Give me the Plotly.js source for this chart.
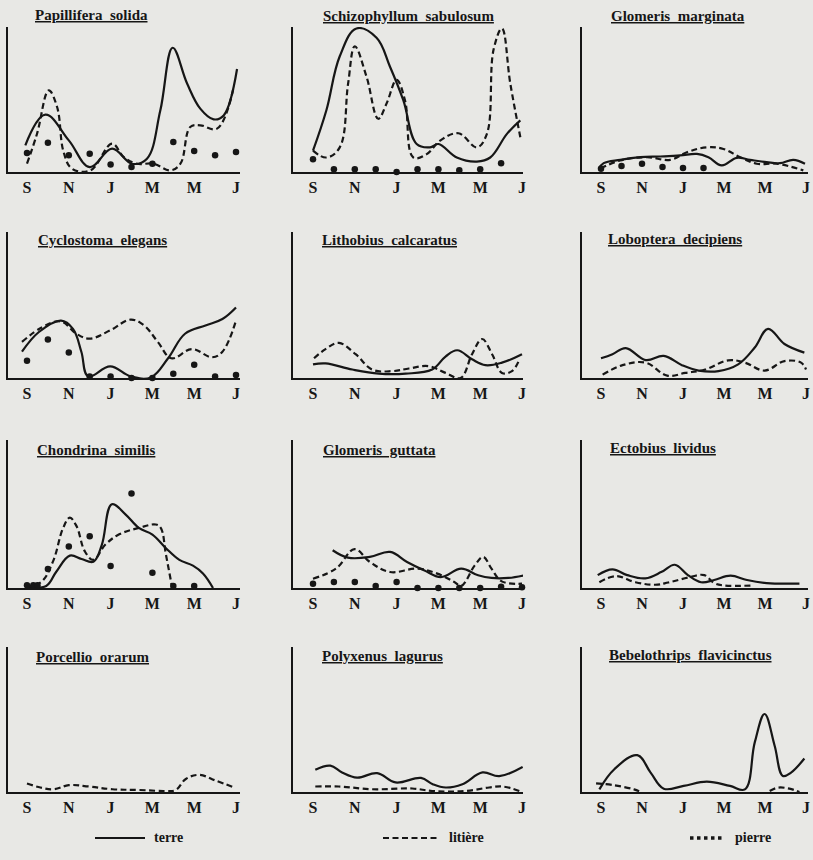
<!DOCTYPE html>
<html>
<head>
<meta charset="utf-8">
<script src="https://cdn.plot.ly/plotly-3.0.1.min.js"></script>
<style>
html,body{margin:0;padding:0;background:#e8e8e5;}
#chart{width:813px;height:860px;}
</style>
</head>
<body>
<div id="chart"></div>
<script>
// ---- month axis ----
const monthTickVals = [0, 2, 4, 6, 8, 10];
const monthTickText = ['S', 'N', 'J', 'M', 'M', 'J'];
const seriesNames = ['terre', 'litière', 'pierre'];

// ---- 1. Papillifera solida ----
const papTerreX = [-0.08, 0.88, 2.0, 3.0, 4.07, 5.02, 5.74, 6.38, 6.97, 7.66, 8.29, 8.93, 9.41, 10.05];
const papTerreY = [18.4, 39.5, 21.8, 3.4, 16.1, 5.7, 9.2, 42.5, 85.7, 61, 43.7, 36.3, 39, 71];
const papLitX = [0, 0.48, 1.04, 1.44, 1.75, 2.15, 3.03, 4.07, 4.63, 5.26, 6.06, 6.86, 7.34, 7.81, 8.29, 9.09, 9.89];
const papLitY = [5.7, 26.4, 56.3, 44.8, 13.8, 2.3, 1.1, 19.5, 10.3, 5.7, 5.7, 1.1, 5.7, 31, 32.2, 29.9, 58.6];
const papPierreX = [0, 1, 2, 3, 4, 5, 6, 7, 8, 9, 10];
const papPierreY = [13.1, 20.2, 11.5, 12.6, 5.1, 3.4, 5.7, 20.7, 14.5, 11.5, 13.8];

// ---- 2. Schizophyllum sabulosum ----
const schTerreX = [0, 0.64, 1.28, 2.08, 3.04, 3.68, 4.32, 4.96, 5.6, 6.0, 6.88, 7.84, 8.48, 9.28, 9.92];
const schTerreY = [14.7, 42.6, 79.8, 99, 92.6, 72.8, 49.5, 19.3, 17, 19.3, 10, 7.2, 10, 26.3, 35.6];
const schLitX = [0, 0.64, 1.28, 1.68, 2.0, 2.56, 3.12, 3.52, 4.0, 4.4, 4.8, 5.44, 6.08, 6.96, 7.84, 8.32, 8.64, 9.04, 9.44, 9.92];
const schLitY = [14.7, 10, 17, 61, 86.7, 65.8, 36.7, 47.2, 63.5, 49.5, 10, 12.3, 21.6, 26.7, 17, 26.3, 84.4, 99, 61, 24];
const schPierreX = [0, 1, 2, 3, 4, 5, 6, 7, 8, 9];
const schPierreY = [8.8, 1.9, 1.9, 1.9, 0, 1.9, 1.9, 1.2, 1.9, 6.0];

// ---- 3. Glomeris marginata ----
const gmaTerreX = [-0.11, 0.13, 0.94, 1.92, 2.89, 3.86, 4.68, 5.24, 5.89, 6.62, 7.27, 8.08, 8.73, 9.38, 9.95];
const gmaTerreY = [2.3, 6.1, 8.4, 10.2, 10.7, 11.4, 12.5, 10.2, 4.5, 9.8, 8.4, 6.8, 6.1, 8.4, 5.7];
const gmaLitX = [-0.03, 0.94, 2.24, 3.38, 4.19, 5.16, 5.97, 6.79, 7.6, 8.57, 9.87];
const gmaLitY = [2.3, 8, 10.2, 8.4, 13.6, 17, 15.9, 10.2, 5.7, 5.7, 1.1];
const gmaPierreX = [0, 1, 2, 3, 4, 5];
const gmaPierreY = [2.3, 4.1, 5.7, 3.4, 2.7, 2.7];

// ---- 4. Cyclostoma elegans ----
const cycTerreX = [-0.24, 0.57, 1.63, 2.2, 2.6, 2.93, 3.98, 4.96, 5.93, 6.75, 7.56, 8.54, 9.35, 10];
const cycTerreY = [18, 31.5, 39.3, 33.7, 18, 1.1, 7.9, 1.1, 0.4, 13.5, 30.3, 36, 40.4, 48.3];
const cycLitX = [-0.24, 0.73, 1.63, 2.36, 3.0, 3.98, 4.96, 5.6, 6.26, 6.91, 7.89, 8.86, 9.35, 10];
const cycLitY = [24.7, 34.8, 38.7, 30.3, 27, 32.6, 40, 36, 24.7, 13.5, 19.8, 14.2, 18, 39.3];
const cycPierreX = [0, 1, 2, 3, 4, 5, 6, 7, 8, 9, 10];
const cycPierreY = [11.9, 26.3, 17.5, 1.1, 1.1, 0, 0, 2.9, 9, 1.1, 2];

// ---- 5. Lithobius calcaratus ----
const litTerreX = [0, 0.6, 1.88, 3.15, 4.43, 5.7, 6.34, 6.9, 7.61, 8.25, 9.04, 10];
const litTerreY = [9.3, 10, 5.8, 3, 3, 5.8, 14.7, 19, 12.8, 8.8, 10.5, 16.3];
const litLitX = [0.05, 0.6, 1.24, 2.04, 2.83, 3.79, 4.59, 5.54, 6.34, 7.06, 7.61, 8.09, 8.57, 9.04, 9.52, 9.84];
const litLitY = [13.5, 19.8, 24, 16.3, 5.8, 4.7, 6.5, 8.1, 3.5, 0, 16.3, 26.7, 16.3, 3.5, 4.7, 11.6];

// ---- 6. Loboptera decipiens ----
const lobTerreX = [0, 0.56, 1.21, 2.18, 3.06, 3.95, 4.76, 5.73, 6.69, 7.5, 8.15, 8.95, 9.92];
const lobTerreY = [13.5, 16.3, 20.5, 12.3, 15.1, 8.8, 5.1, 4.7, 9.3, 20.9, 33.7, 23.3, 17.4];
const lobLitX = [0.08, 1.05, 2.18, 3.23, 4.11, 5.08, 6.21, 7.02, 7.98, 8.95, 9.76, 10];
const lobLitY = [2.3, 8.8, 10.5, 1.6, 3.5, 5.8, 12.1, 10.5, 5.1, 11.6, 10.5, 5.8];

// ---- 7. Chondrina similis ----
const choTerreX = [-0.05, 0.92, 1.4, 2.05, 2.61, 3.18, 3.58, 4.06, 4.71, 5.35, 6.0, 6.65, 7.29, 7.94, 8.42, 8.9];
const choTerreY = [0.7, 1.4, 11, 21.9, 19.6, 17.8, 29.2, 56.6, 49.8, 40.6, 36.1, 26.9, 19, 15.1, 9.8, 0];
const choLitX = [-0.05, 0.68, 1.24, 1.73, 2.05, 2.37, 2.77, 3.18, 3.74, 4.39, 5.35, 6.16, 6.4, 6.65, 6.94];
const choLitY = [0.7, 4.1, 17.8, 40.6, 47.5, 41.8, 24.7, 19, 29.2, 36.1, 40.6, 42.9, 40.6, 22.4, 0.7];
const choPierreX = [0, 0.3, 0.5, 1, 2, 3, 4, 5, 6, 7, 8];
const choPierreY = [1.8, 1.8, 1.8, 12.8, 28.1, 34.9, 14.8, 63.9, 10.3, 1.4, 1.4];

// ---- 8. Glomeris guttata ----
const gguTerreX = [0.94, 1.67, 2.72, 3.69, 4.5, 5.31, 6.12, 7.09, 7.9, 8.54, 9.35, 10.1];
const gguTerreY = [25.5, 20.5, 21, 24.4, 17.6, 12, 7.4, 13.1, 8.6, 6.8, 6.8, 8.6];
const gguLitX = [0, 1.1, 1.99, 2.72, 3.69, 4.98, 5.95, 6.76, 7.09, 7.74, 8.14, 8.54, 9.03, 10];
const gguLitY = [6.3, 13.1, 26.2, 17.6, 10.8, 13.1, 9.7, 4.1, 1.4, 15.3, 21, 13.1, 4.5, 2.9];
const gguPierreX = [0, 1, 2, 3, 4, 5, 6, 7, 8, 9, 10];
const gguPierreY = [2.9, 4.1, 4.1, 1.4, 4.1, 0, 0, 0, 0, 0.9, 0.5];

// ---- 9. Ectobius lividus ----
const ectTerreX = [-0.16, 0.56, 1.28, 2.16, 2.96, 3.6, 4.24, 4.88, 5.52, 6.32, 7.12, 8.08, 9.68];
const ectTerreY = [8.7, 12.6, 8.7, 6.5, 10.9, 15.7, 8.7, 3.9, 5.4, 8.3, 5.4, 3.3, 3];
const ectLitX = [-0.08, 0.72, 1.68, 2.64, 3.28, 4.24, 5.04, 5.52, 6.0, 7.36];
const ectLitY = [3.9, 8, 3.9, 2.2, 3.7, 7, 8.7, 3.3, 1.7, 1.7];

// ---- 10. Porcellio orarum ----
const porLitX = [0, 0.64, 1.28, 2, 2.96, 4.08, 5.36, 6.64, 7.12, 7.6, 8.24, 9.04, 9.92];
const porLitY = [5.9, 3.1, 1.9, 4.7, 3.8, 1.9, 1.4, 0.7, 1.4, 9, 11.8, 7.8, 3.1];

// ---- 11. Polyxenus lagurus ----
const polTerreX = [0.11, 0.83, 1.39, 2.11, 3.07, 3.95, 5.17, 5.73, 6.35, 7.15, 8.11, 8.91, 10.03];
const polTerreY = [15.4, 18.2, 13.5, 9.9, 13, 6.6, 9.7, 5.4, 3.1, 5.4, 13.5, 10.9, 17.3];
const polLitX = [0.11, 1.23, 2.83, 4.75, 5.71, 7.31, 8.43, 9.07, 9.87];
const polLitY = [3.8, 3.8, 1.9, 2.4, 0.7, 0.7, 3.1, 3.8, 0.7];

// ---- 12. Bebelothrips flavicinctus ----
const bebTerreX = [-0.08, 0.65, 1.77, 2.42, 3.06, 4.03, 5.16, 6.29, 7.02, 7.5, 7.98, 8.47, 8.87, 9.27, 9.92];
const bebTerreY = [1.8, 15.7, 25.4, 13.4, 2.3, 4.2, 7.2, 4.2, 1.8, 34.2, 53.8, 31.9, 11.1, 13.4, 23.1];
const bebLitX = [-0.24, 0.65, 1.61, 1.94];
const bebLitY = [6, 4.6, 1.8, 0];
const bebLit2X = [8.23, 8.63, 9.19, 9.68];
const bebLit2Y = [0.7, 3, 2.3, 0];

// ---- panel table (built from the arrays above) ----
const panelTitles = ['Papillifera solida', 'Schizophyllum sabulosum', 'Glomeris marginata',
  'Cyclostoma elegans', 'Lithobius calcaratus', 'Loboptera decipiens',
  'Chondrina similis', 'Glomeris guttata', 'Ectobius lividus',
  'Porcellio orarum', 'Polyxenus lagurus', 'Bebelothrips flavicinctus'];
const panelSeries = [
  {terre: [[papTerreX, papTerreY]], lit: [[papLitX, papLitY]], pierre: [papPierreX, papPierreY]},
  {terre: [[schTerreX, schTerreY]], lit: [[schLitX, schLitY]], pierre: [schPierreX, schPierreY]},
  {terre: [[gmaTerreX, gmaTerreY]], lit: [[gmaLitX, gmaLitY]], pierre: [gmaPierreX, gmaPierreY]},
  {terre: [[cycTerreX, cycTerreY]], lit: [[cycLitX, cycLitY]], pierre: [cycPierreX, cycPierreY]},
  {terre: [[litTerreX, litTerreY]], lit: [[litLitX, litLitY]], pierre: null},
  {terre: [[lobTerreX, lobTerreY]], lit: [[lobLitX, lobLitY]], pierre: null},
  {terre: [[choTerreX, choTerreY]], lit: [[choLitX, choLitY]], pierre: [choPierreX, choPierreY]},
  {terre: [[gguTerreX, gguTerreY]], lit: [[gguLitX, gguLitY]], pierre: [gguPierreX, gguPierreY]},
  {terre: [[ectTerreX, ectTerreY]], lit: [[ectLitX, ectLitY]], pierre: null},
  {terre: [], lit: [[porLitX, porLitY]], pierre: null},
  {terre: [[polTerreX, polTerreY]], lit: [[polLitX, polLitY]], pierre: null},
  {terre: [[bebTerreX, bebTerreY]], lit: [[bebLitX, bebLitY], [bebLit2X, bebLit2Y]], pierre: null}
];

// ---- geometry (pixels in the 813x860 page) ----
const W = 813, H = 860;
const cols = [
  {left: 8, s: 27, pm: 20.9, right: 240},
  {left: 293, s: 313, pm: 20.9, right: 523},
  {left: 582, s: 601, pm: 20.5, right: 808}
];
const rows = [
  {top: 27, base: 172},
  {top: 232, base: 378},
  {top: 440, base: 588},
  {top: 647, base: 792}
];
const titlePos = [[33, 15], [321, 16], [609, 16], [36, 240], [320, 240], [606, 239],
                  [35, 450], [321, 450], [608, 448], [34, 657], [320, 656], [607, 655]];

const INK = '#161616';
const serif = 'Liberation Serif, Times New Roman, serif';
const traces = [];
const layout = {
  width: W, height: H,
  margin: {l: 0, r: 0, t: 0, b: 0},
  paper_bgcolor: '#e8e8e5', plot_bgcolor: 'rgba(0,0,0,0)',
  showlegend: false,
  annotations: [], shapes: []
};

panelTitles.forEach((title, i) => {
  const c = cols[i % 3], r = rows[Math.floor(i / 3)];
  const n = i + 1;
  const xa = 'xaxis' + (n === 1 ? '' : n), ya = 'yaxis' + (n === 1 ? '' : n);
  const xr = 'x' + (n === 1 ? '' : n), yr = 'y' + (n === 1 ? '' : n);
  layout[xa] = {
    domain: [c.left / W, c.right / W],
    range: [(c.left - c.s) / c.pm, (c.right - c.s) / c.pm],
    anchor: yr, showline: true, linecolor: INK, linewidth: 2.2,
    showgrid: false, zeroline: false, ticks: '',
    tickmode: 'array', tickvals: monthTickVals,
    ticktext: monthTickText.map(t => '<b>' + t + '</b>'),
    tickfont: {family: serif, size: 16, color: INK}, fixedrange: true
  };
  layout[ya] = {
    domain: [1 - r.base / H, 1 - r.top / H],
    range: [0, 100], anchor: xr,
    showline: true, linecolor: INK, linewidth: 2.2,
    showgrid: false, zeroline: false, ticks: '', showticklabels: false, fixedrange: true
  };
  const s = panelSeries[i];
  s.terre.forEach(([x, y]) => traces.push({
    type: 'scatter', mode: 'lines', x: x, y: y, xaxis: xr, yaxis: yr, name: seriesNames[0],
    line: {color: INK, width: 2.2, shape: 'spline', smoothing: 1.1}
  }));
  s.lit.forEach(([x, y]) => traces.push({
    type: 'scatter', mode: 'lines', x: x, y: y, xaxis: xr, yaxis: yr, name: seriesNames[1],
    line: {color: INK, width: 2.2, shape: 'spline', smoothing: 1.1, dash: '6px,3.5px'}
  }));
  if (s.pierre) traces.push({
    type: 'scatter', mode: 'markers', x: s.pierre[0], y: s.pierre[1], xaxis: xr, yaxis: yr,
    name: seriesNames[2], cliponaxis: false,
    marker: {color: INK, size: 6.5}
  });
  layout.annotations.push({
    xref: 'paper', yref: 'paper', x: titlePos[i][0] / W, y: 1 - titlePos[i][1] / H,
    xanchor: 'left', yanchor: 'middle', showarrow: false,
    text: '<b>' + title.replace(' ', '\u00a0 ') + '</b>',
    font: {family: serif, size: 15, color: INK, lineposition: 'under'}
  });
});

// ---- key at the bottom ----
const keyY = 1 - 838 / H;
const keyItems = [
  {x0: 95, x1: 145, tx: 152, dash: 'solid', width: 2},
  {x0: 383, x1: 440, tx: 447, dash: '6px,3.5px', width: 2},
  {x0: 690, x1: 722, tx: 733, dash: 'dot', width: 3.5}
];
keyItems.forEach((k, j) => {
  layout.shapes.push({type: 'line', xref: 'paper', yref: 'paper', x0: k.x0 / W, x1: k.x1 / W,
    y0: keyY, y1: keyY, line: {color: INK, width: k.width, dash: k.dash}});
  layout.annotations.push({xref: 'paper', yref: 'paper', x: k.tx / W, y: keyY + 0.001,
    xanchor: 'left', yanchor: 'middle', showarrow: false,
    text: '<b>' + seriesNames[j] + '</b>', font: {family: serif, size: 14, color: INK}});
});

Plotly.newPlot('chart', traces, layout, {staticPlot: true, displayModeBar: false});
</script>
</body>
</html>
